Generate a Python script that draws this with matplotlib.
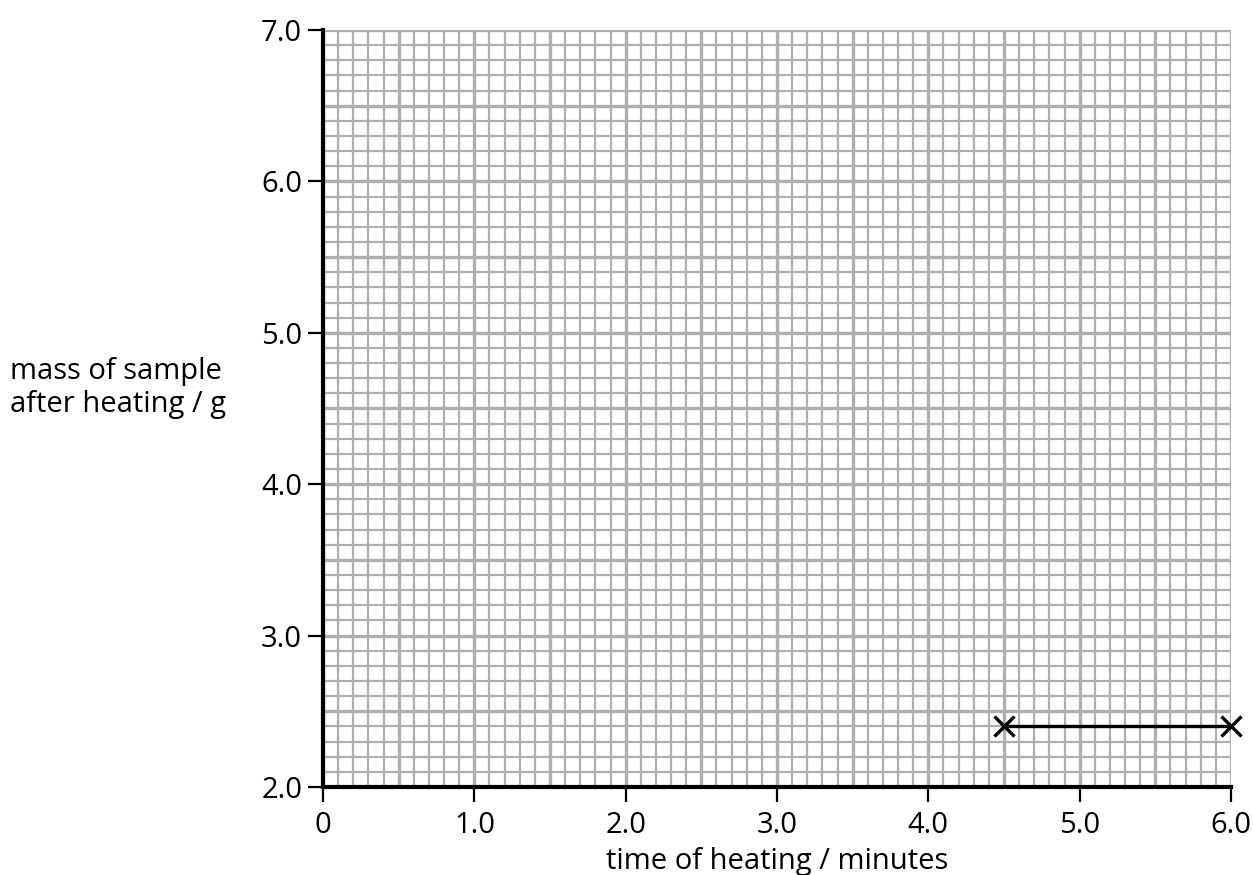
import numpy as np
import matplotlib
matplotlib.use("Agg")
import matplotlib.pyplot as plt

# data
time_min = [4.5, 6.0]
mass_g = [2.4, 2.4]
x_ticks = [0, 1.0, 2.0, 3.0, 4.0, 5.0, 6.0]
x_tick_labels = ["0", "1.0", "2.0", "3.0", "4.0", "5.0", "6.0"]
y_ticks = [2.0, 3.0, 4.0, 5.0, 6.0, 7.0]
y_tick_labels = ["2.0", "3.0", "4.0", "5.0", "6.0", "7.0"]

plt.rcParams['font.family'] = ['Open Sans', 'DejaVu Sans']

fig = plt.figure(figsize=(12.53, 8.75), dpi=100)
ax = fig.add_axes([323 / 1253, 1 - 787 / 875, (1231 - 323) / 1253, (787 - 30) / 875])
ax.set_xlim(0, 6.0)
ax.set_ylim(2.0, 7.0)

grid_col = "#afafaf"
# fine grid every 0.1, heavier every 0.5
for v in np.arange(0, 6.0001, 0.1):
    heavy = abs(v * 2 - round(v * 2)) < 1e-6
    ax.axvline(v, color=grid_col, lw=2.4 if heavy else 1.6, zorder=1)
for v in np.arange(2.0, 7.0001, 0.1):
    heavy = abs(v * 2 - round(v * 2)) < 1e-6
    ax.axhline(v, color=grid_col, lw=2.4 if heavy else 1.6, zorder=1)

ax.plot(time_min, mass_g, color="black", lw=2.4, marker="x", markersize=14,
        markeredgewidth=2.4, clip_on=False, zorder=5)

for s in ["top", "right"]:
    ax.spines[s].set_visible(False)
for s in ["left", "bottom"]:
    ax.spines[s].set_linewidth(3)
    ax.spines[s].set_zorder(4)

ax.set_xticks(x_ticks)
ax.set_xticklabels(x_tick_labels)
ax.set_yticks(y_ticks)
ax.set_yticklabels(y_tick_labels)
ax.tick_params(axis="both", direction="out", length=11, width=1.6, labelsize=21)
ax.tick_params(axis="x", pad=6)
ax.tick_params(axis="y", pad=4)

ax.set_xlabel("time of heating / minutes", fontsize=21, labelpad=5)
fig.text(10 / 1253, 1 - 388 / 875, "mass of sample\nafter heating / g", fontsize=21,
         ha="left", va="center", linespacing=1.15)

fig.savefig("out.png", dpi=100)
